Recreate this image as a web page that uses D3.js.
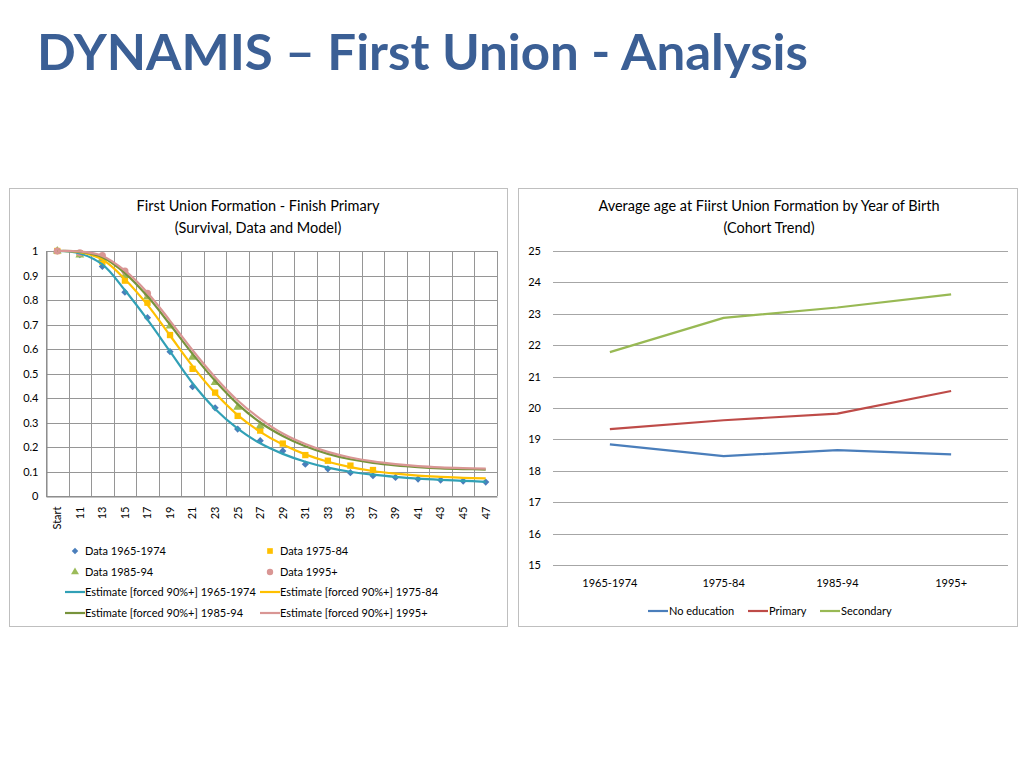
<!DOCTYPE html>
<html>
<head>
<meta charset="utf-8">
<script src="https://cdn.jsdelivr.net/npm/d3@7/dist/d3.min.js"></script>
<style>
  html, body { margin: 0; padding: 0; background: #fff; }
  svg { display: block; }
  text { font-family: Lato, "Open Sans", sans-serif; fill: #000; }
</style>
</head>
<body>
<svg id="chart" width="1024" height="768"></svg>
<script>
// ---------- DATA ----------
const ages = ["Start","11","13","15","17","19","21","23","25","27","29","31","33","35","37","39","41","43","45","47"];
const yTicksLeft = [0,0.1,0.2,0.3,0.4,0.5,0.6,0.7,0.8,0.9,1];

const data1965 = [1.0,0.985,0.937,0.832,0.728,0.589,0.446,0.36,0.273,0.226,0.184,0.13,0.111,0.095,0.083,0.076,0.069,0.065,0.061,0.057];
const data1975 = [1.0,0.99,0.956,0.879,0.789,0.657,0.519,0.422,0.327,0.267,0.214,0.167,0.144,0.124,0.106];
const data1985 = [1.0,0.984,0.97,0.9,0.813,0.694,0.567,0.464,0.362,0.286];
const data1995 = [1.0,0.993,0.981,0.918,0.827];

const est1965 = [1.0,0.99,0.945,0.84,0.72,0.59,0.46,0.355,0.275,0.215,0.172,0.14,0.116,0.099,0.087,0.078,0.071,0.066,0.062,0.058];
const est1975 = [1.0,0.995,0.965,0.885,0.78,0.655,0.53,0.42,0.33,0.262,0.21,0.17,0.14,0.118,0.102,0.091,0.083,0.078,0.074,0.072];
const est1985 = [1.0,0.997,0.975,0.91,0.815,0.70,0.58,0.47,0.375,0.30,0.245,0.203,0.172,0.15,0.135,0.125,0.118,0.113,0.11,0.108];
const est1995 = [1.0,0.998,0.98,0.92,0.83,0.715,0.595,0.485,0.39,0.315,0.255,0.212,0.18,0.157,0.141,0.13,0.122,0.117,0.114,0.112];

const cohorts = ["1965-1974","1975-84","1985-94","1995+"];
const noEducation = [18.84,18.47,18.66,18.52];
const primary = [19.33,19.61,19.82,20.54];
const secondary = [21.78,22.87,23.2,23.62];
const yTicksRight = [15,16,17,18,19,20,21,22,23,24,25];

// ---------- DRAW ----------
const svg = d3.select("#chart");

// Title
svg.append("text")
  .attr("x", 37).attr("y", 70)
  .attr("textLength", 771).attr("lengthAdjust", "spacingAndGlyphs")
  .style("font-family", "Lato, sans-serif")
  .style("font-weight", "bold")
  .style("font-size", "50px")
  .style("fill", "#3B5F95")
  .text("DYNAMIS – First Union - Analysis");

// Chart frames
svg.append("rect").attr("x", 9.5).attr("y", 188.5).attr("width", 498).attr("height", 438)
  .attr("fill", "#fff").attr("stroke", "#BFBFBF");
svg.append("rect").attr("x", 518.5).attr("y", 188.5).attr("width", 499).attr("height", 438)
  .attr("fill", "#fff").attr("stroke", "#BFBFBF");

// ---------- LEFT CHART ----------
const L = svg.append("g");
const xL = d3.scaleBand().domain(ages).range([46, 497]).padding(0);
const yL = d3.scaleLinear().domain([0, 1]).range([496, 251]);
const cx = c => xL(c) + xL.bandwidth() / 2;

L.append("text").attr("x", 258).attr("y", 211).attr("text-anchor", "middle")
  .style("font-size", "14.5px").text("First Union Formation - Finish Primary");
L.append("text").attr("x", 258).attr("y", 233).attr("text-anchor", "middle")
  .style("font-size", "14.5px").text("(Survival, Data and Model)");

// grid
const gridL = L.append("g").attr("stroke", "#969696").attr("stroke-width", 1);
yTicksLeft.forEach(t => {
  gridL.append("line").attr("x1", 46).attr("x2", 497)
    .attr("y1", Math.round(yL(t)) + 0.5).attr("y2", Math.round(yL(t)) + 0.5);
});
ages.forEach(a => {
  const x = Math.round(xL(a)) + 0.5;
  gridL.append("line").attr("x1", x).attr("x2", x).attr("y1", 251).attr("y2", 496);
});
gridL.append("line").attr("x1", 497.5).attr("x2", 497.5).attr("y1", 251).attr("y2", 496);

// axes
const axL = L.append("g").attr("transform", "translate(46.5,0)")
  .call(d3.axisLeft(yL).tickValues(yTicksLeft).tickSize(0).tickPadding(8).tickFormat(d => d3.format("")(d)));
axL.select(".domain").attr("stroke", "#868686");
axL.selectAll("text").style("font-size", "11px").style("font-family", "Lato, sans-serif").attr("fill", "#000");

const axB = L.append("g").attr("transform", "translate(0,496.5)")
  .call(d3.axisBottom(xL).tickSize(0).tickPadding(0));
axB.select(".domain").attr("stroke", "#868686");
axB.selectAll("text")
  .style("font-size", "11px").style("font-family", "Lato, sans-serif").attr("fill", "#000")
  .attr("text-anchor", "end").attr("dy", "0.35em")
  .attr("transform", "translate(0,10) rotate(-90)").attr("x", 0).attr("y", 0);

// estimate lines
const lineL = d3.line().x((d, i) => cx(ages[i])).y(d => yL(d)).curve(d3.curveCatmullRom.alpha(0.5));
const estSeries = [
  {v: est1965, c: "#31A0B6"},
  {v: est1975, c: "#FFC000"},
  {v: est1985, c: "#77933C"},
  {v: est1995, c: "#D99694"}
];
// data markers
const dataSeries = [
  {v: data1965, c: "#4A7EBB", s: d3.symbolSquare, size: 26, rot: 45},
  {v: data1975, c: "#FFC000", s: d3.symbolSquare, size: 40, rot: 0},
  {v: data1985, c: "#9BBB59", s: d3.symbolTriangle, size: 34, rot: 0},
  {v: data1995, c: "#D99694", s: d3.symbolCircle, size: 40, rot: 0}
];
dataSeries.forEach(s => {
  L.append("g").selectAll("path").data(s.v).join("path")
    .attr("d", d3.symbol().type(s.s).size(s.size))
    .attr("transform", (d, i) => `translate(${cx(ages[i])},${yL(d)}) rotate(${s.rot})`)
    .attr("fill", s.c);
});
estSeries.forEach(s => {
  L.append("path").datum(s.v).attr("d", lineL)
    .attr("fill", "none").attr("stroke", s.c).attr("stroke-width", 2.2);
});

// left legend
const legL = L.append("g").style("font-size", "11px");
const legItems = [
  {t: "Data 1965-1974", x: 75, y: 551, type: "sym", s: dataSeries[0]},
  {t: "Data 1975-84", x: 270, y: 551, type: "sym", s: dataSeries[1]},
  {t: "Data 1985-94", x: 75, y: 572, type: "sym", s: dataSeries[2]},
  {t: "Data 1995+", x: 270, y: 572, type: "sym", s: dataSeries[3]},
  {t: "Estimate [forced 90%+] 1965-1974", x: 75, y: 592, type: "line", s: estSeries[0]},
  {t: "Estimate [forced 90%+] 1975-84", x: 270, y: 592, type: "line", s: estSeries[1]},
  {t: "Estimate [forced 90%+] 1985-94", x: 75, y: 613, type: "line", s: estSeries[2]},
  {t: "Estimate [forced 90%+] 1995+", x: 270, y: 613, type: "line", s: estSeries[3]}
];
legItems.forEach(it => {
  if (it.type === "sym") {
    legL.append("path").attr("d", d3.symbol().type(it.s.s).size(it.s.size * 0.8))
      .attr("transform", `translate(${it.x},${it.y}) rotate(${it.s.rot})`).attr("fill", it.s.c);
    legL.append("text").attr("x", it.x + 10).attr("y", it.y).attr("dy", "0.35em").text(it.t);
  } else {
    legL.append("line").attr("x1", it.x - 10).attr("x2", it.x + 10).attr("y1", it.y).attr("y2", it.y)
      .attr("stroke", it.s.c).attr("stroke-width", 2.2);
    legL.append("text").attr("x", it.x + 10).attr("y", it.y).attr("dy", "0.35em").text(it.t);
  }
});

// ---------- RIGHT CHART ----------
const R = svg.append("g");
const xR = d3.scaleBand().domain(cohorts).range([553, 1008]).padding(0);
const yR = d3.scaleLinear().domain([15, 25]).range([565, 251]);
const cxR = c => xR(c) + xR.bandwidth() / 2;

R.append("text").attr("x", 769).attr("y", 211).attr("text-anchor", "middle")
  .style("font-size", "14.5px").text("Average age at Fiirst Union Formation by Year of Birth");
R.append("text").attr("x", 769).attr("y", 233).attr("text-anchor", "middle")
  .style("font-size", "14.5px").text("(Cohort Trend)");

const gridR = R.append("g").attr("stroke", "#A6A6A6");
yTicksRight.forEach(t => {
  gridR.append("line").attr("x1", 553).attr("x2", 1008)
    .attr("y1", Math.round(yR(t)) + 0.5).attr("y2", Math.round(yR(t)) + 0.5);
});
const axR = R.append("g").attr("transform", "translate(553,0)")
  .call(d3.axisLeft(yR).tickValues(yTicksRight).tickSize(0).tickPadding(12));
axR.select(".domain").remove();
axR.selectAll("text").style("font-size", "11px").style("font-family", "Lato, sans-serif").attr("fill", "#000");

const axRB = R.append("g").attr("transform", "translate(0,565)")
  .call(d3.axisBottom(xR).tickSize(0).tickPadding(14));
axRB.select(".domain").remove();
axRB.selectAll("text").style("font-size", "11px").style("font-family", "Lato, sans-serif").attr("fill", "#000");

const lineR = d3.line().x((d, i) => cxR(cohorts[i])).y(d => yR(d));
const rSeries = [
  {name: "No education", v: noEducation, c: "#4A7EBB"},
  {name: "Primary", v: primary, c: "#BE4B48"},
  {name: "Secondary", v: secondary, c: "#98B954"}
];
rSeries.forEach(s => {
  R.append("path").datum(s.v).attr("d", lineR)
    .attr("fill", "none").attr("stroke", s.c).attr("stroke-width", 2.2).attr("stroke-linejoin", "round");
});
const legRpos = [658, 758, 830];
rSeries.forEach((s, i) => {
  R.append("line").attr("x1", legRpos[i] - 10).attr("x2", legRpos[i] + 10).attr("y1", 611).attr("y2", 611)
    .attr("stroke", s.c).attr("stroke-width", 2.2);
  R.append("text").attr("x", legRpos[i] + 11).attr("y", 611).attr("dy", "0.35em")
    .style("font-size", "11px").text(s.name);
});
</script>
</body>
</html>
